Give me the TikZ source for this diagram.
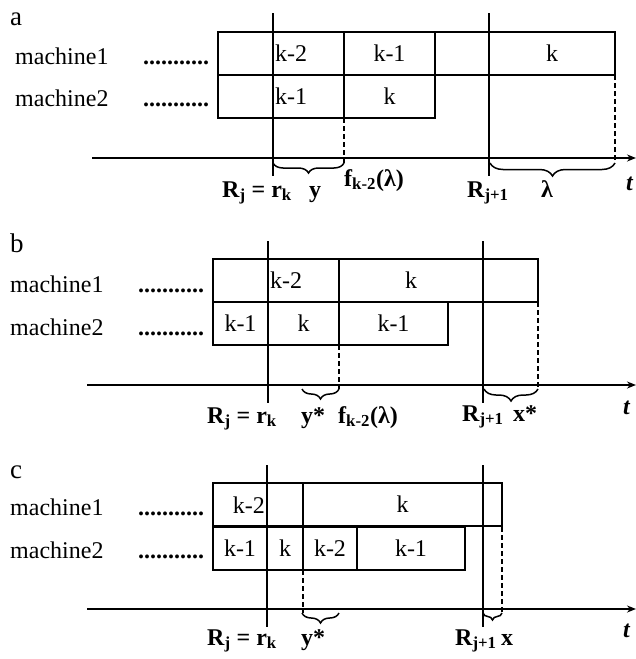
\documentclass[tikz,border=0pt]{standalone}
\usepackage{fontspec}
\setmainfont{Liberation Serif}
\usetikzlibrary{decorations.pathreplacing,arrows.meta}
\begin{document}
\begin{tikzpicture}[x=1pt,y=-1pt,
  every node/.style={font=\fontsize{24}{28}\selectfont},
  cell/.style={draw, line width=1.8pt, minimum height=43pt, inner sep=0pt, outer sep=0pt, anchor=north west},
  txt/.style={inner sep=0pt},
  side/.style={anchor=base west, inner sep=0pt},
  panel/.style={anchor=base west, inner sep=0pt, font=\fontsize{27}{30}\selectfont},
  dots/.style={anchor=base west, inner sep=0pt, font=\bfseries\fontsize{24}{28}\selectfont},
  vline/.style={line width=1.5pt},
  axis/.style={line width=1.5pt, -{Stealth[length=9pt,width=7pt]}},
  dashline/.style={dash pattern=on 5pt off 3pt, line width=2pt},
  brc/.style={decorate, decoration={brace, mirror, amplitude=#1}, line width=1.5pt},
  brc/.default=10pt,
  lbl/.style={anchor=base west, inner sep=0pt, font=\bfseries\fontsize{24}{28}\selectfont}
]
\useasboundingbox (0,0) rectangle (636,659);

% ================= panel a =================
\node[panel] (pa) at (10,25) {a};
\node[side] (ma1) at (15,64) {machine1};
\node[side] (ma2) at (15,106) {machine2};
\node[dots] (da1) at (143,64) {...........};
\node[dots] (da2) at (143,106) {...........};

\node[cell, minimum width=55pt] (A11) at (218,32) {};
\node[cell, minimum width=71pt] (A12) at (273,32) {};
\node[cell, minimum width=91pt] (A13) at (344,32) {k-1};
\node[cell, minimum width=54pt] (A14) at (435,32) {};
\node[cell, minimum width=126pt] (A15) at (489,32) {k};
\node[cell, minimum width=55pt] (A21) at (218,75) {};
\node[cell, minimum width=71pt] (A22) at (273,75) {};
\node[cell, minimum width=91pt] (A23) at (344,75) {k};
\node[txt, anchor=west] (ta12) at (275,53.5) {k-2};
\node[txt, anchor=west] (ta22) at (275,96.5) {k-1};

\coordinate (va1t) at (273,13); \coordinate (va1b) at (273,176);
\coordinate (va2t) at (489,13); \coordinate (va2b) at (489,176);
\draw[vline] (va1t) -- (va1b);
\draw[vline] (va2t) -- (va2b);
\coordinate (axa0) at (92,158); \coordinate (axa1) at (636,158);
\draw[axis] (axa0) -- (axa1);
\coordinate (dka1) at (344,163); \coordinate (dka2) at (615,163);
\draw[dashline] (A23.south west) -- (dka1);
\draw[dashline] (A15.south east) -- (dka2);
\coordinate (bya0) at (273,163);
\draw[brc] (bya0) -- (dka1);
\coordinate (bla0) at (490,163);
\draw[brc=13pt] (bla0) -- (dka2);

\node[lbl] (la1) at (222,197) {R\textsubscript{j} = r\textsubscript{k}};
\node[lbl] (la2) at (309,197) {y};
\node[lbl] (la3) at (344,186) {f\textsubscript{k-2}(λ)};
\node[lbl] (la4) at (467,197) {R\textsubscript{j+1}};
\node[lbl] (la5) at (541,197) {λ};
\node[lbl] (la6) at (626,190) {\textit{t}};

% ================= panel b =================
\node[panel] (pb) at (10,252) {b};
\node[side] (mb1) at (10,292) {machine1};
\node[side] (mb2) at (10,335) {machine2};
\node[dots] (db1) at (138,292) {...........};
\node[dots] (db2) at (138,335) {...........};

\node[cell, minimum width=55pt] (B11) at (213,259) {};
\node[cell, minimum width=71pt] (B12) at (268,259) {};
\node[cell, minimum width=144pt] (B13) at (339,259) {k};
\node[cell, minimum width=55pt] (B14) at (483,259) {};
\node[cell, minimum width=55pt] (B21) at (213,302) {k-1};
\node[cell, minimum width=71pt] (B22) at (268,302) {k};
\node[cell, minimum width=109pt] (B23) at (339,302) {k-1};
\node[txt, anchor=west] (tb12) at (270,280.5) {k-2};

\coordinate (vb1t) at (268,241); \coordinate (vb1b) at (268,403);
\coordinate (vb2t) at (483,241); \coordinate (vb2b) at (483,403);
\draw[vline] (vb1t) -- (vb1b);
\draw[vline] (vb2t) -- (vb2b);
\coordinate (axb0) at (87,385); \coordinate (axb1) at (636,385);
\draw[axis] (axb0) -- (axb1);
\coordinate (dkb1) at (339,389); \coordinate (dkb2) at (538,389);
\draw[dashline] (B23.south west) -- (dkb1);
\draw[dashline] (B14.south east) -- (dkb2);
\coordinate (byb0) at (302,389);
\draw[brc] (byb0) -- (dkb1);
\coordinate (bxb0) at (484,389);
\draw[brc=12pt] (bxb0) -- (dkb2);

\node[lbl] (lb1) at (207,423) {R\textsubscript{j} = r\textsubscript{k}};
\node[lbl] (lb2) at (301,423) {y*};
\node[lbl] (lb3) at (338,423) {f\textsubscript{k-2}(λ)};
\node[lbl] (lb4) at (462,421) {R\textsubscript{j+1}};
\node[lbl] (lb5) at (513,421) {x*};
\node[lbl] (lb6) at (623,414) {\textit{t}};

% ================= panel c =================
\node[panel] (pc) at (10,478) {c};
\node[side] (mc1) at (10,515) {machine1};
\node[side] (mc2) at (10,558) {machine2};
\node[dots] (dc1) at (138,515) {...........};
\node[dots] (dc2) at (138,558) {...........};

\node[cell, minimum width=54pt] (C11) at (213,483) {};
\node[cell, minimum width=36pt] (C12) at (267,483) {};
\node[cell, minimum width=199pt] (C13) at (303,483) {k};
\node[cell, minimum width=54pt] (C21) at (213,527) {k-1};
\node[cell, minimum width=36pt] (C22) at (267,527) {k};
\node[cell, minimum width=54pt] (C23) at (303,527) {k-2};
\node[cell, minimum width=108pt] (C24) at (357,527) {k-1};
\node[txt, anchor=east] (tc11) at (265,505) {k-2};

\coordinate (vc1t) at (267,465); \coordinate (vc1b) at (267,627);
\coordinate (vc2t) at (483,465); \coordinate (vc2b) at (483,627);
\draw[vline] (vc1t) -- (vc1b);
\draw[vline] (vc2t) -- (vc2b);
\coordinate (axc0) at (87,609); \coordinate (axc1) at (636,609);
\draw[axis] (axc0) -- (axc1);
\coordinate (dkc1) at (303,613); \coordinate (dkc2) at (502,613);
\draw[dashline] (C23.south west) -- (dkc1);
\draw[dashline] (C13.south east |- C21.north) -- (dkc2);
\coordinate (byc0) at (302,613); \coordinate (byc1) at (339,613);
\draw[brc] (byc0) -- (byc1);
\coordinate (bxc0) at (483,613);
\draw[brc=7pt] (bxc0) -- (dkc2);

\node[lbl] (lc1) at (207,645) {R\textsubscript{j} = r\textsubscript{k}};
\node[lbl] (lc2) at (301,645) {y*};
\node[lbl] (lc4) at (455,645) {R\textsubscript{j+1}};
\node[lbl] (lc5) at (501,645) {x};
\node[lbl] (lc6) at (623,637) {\textit{t}};
\end{tikzpicture}
\end{document}
